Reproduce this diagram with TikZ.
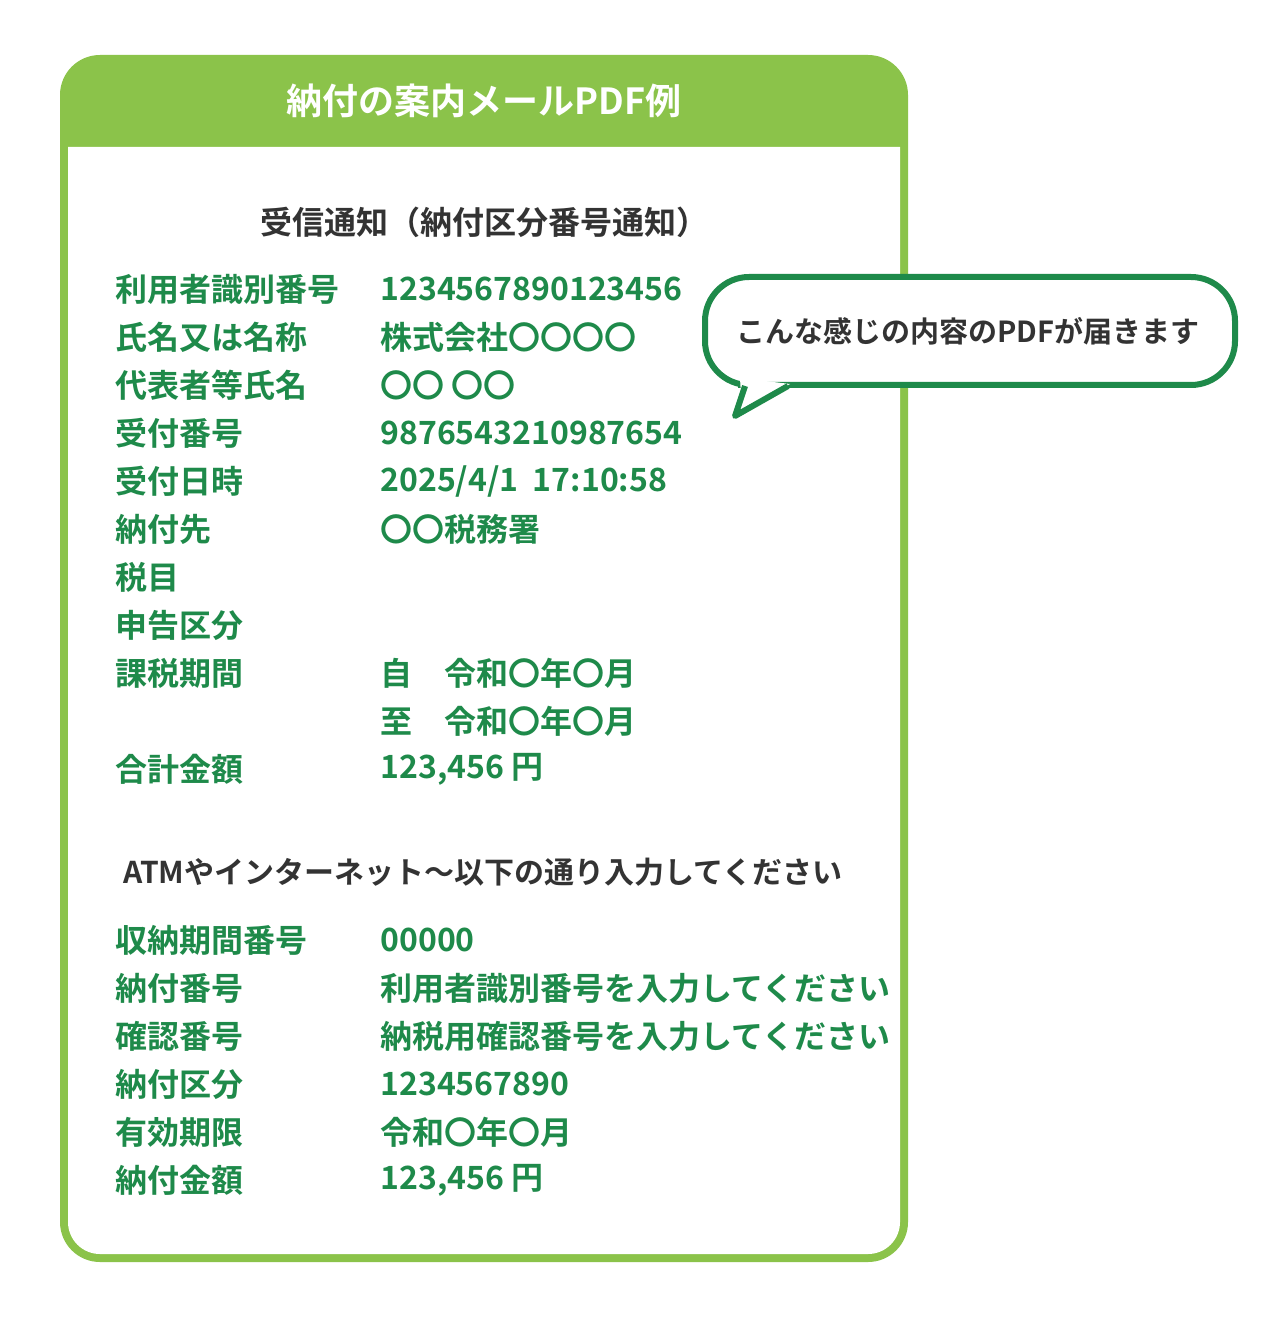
\documentclass[tikz,border=0pt]{standalone}
\usepackage{fontspec}
\setmainfont{Noto Sans CJK JP}[BoldFont={* Bold}]
\definecolor{leaf}{HTML}{8BC34A}
\definecolor{deep}{HTML}{1E8A4A}
\definecolor{ink}{HTML}{333333}
\tikzset{
  lbl/.style={anchor=west,text=deep,font=\fontsize{16}{16}\selectfont\bfseries,inner sep=0pt},
  val/.style={lbl},
  head/.style={text=ink,font=\fontsize{16}{16}\selectfont\bfseries,inner sep=0pt}
}
\begin{document}
\begin{tikzpicture}[x=0.5pt,y=-0.5pt]
\useasboundingbox (0,0) rectangle (1280,1320);
% card
\fill[leaf,rounded corners=20pt] (60,55) rectangle (908,1262);
\fill[white] (68,147) -- (900,147) -- (900,1214) [rounded corners=16pt] -- (900,1254) -- (68,1254) [sharp corners] -- (68,1214) -- cycle;
\node[text=white,font=\fontsize{18}{18}\selectfont\bfseries] (title) at (484,101) {納付の案内メールPDF例};
\node[head] (sec1) at (484,222) {受信通知（納付区分番号通知）};
% first block
\foreach \i/\a/\b in {0/利用者識別番号/1234567890123456,1/氏名又は名称/株式会社〇〇〇〇,2/代表者等氏名/〇〇 〇〇,
  3/受付番号/9876543210987654,4/受付日時/{2025/4/1\ \ 17:10:58},5/納付先/〇〇税務署,6/税目/{},7/申告区分/{},
  8/課税期間/{自\quad 令和〇年〇月},9/{}/{至\quad 令和〇年〇月},10/合計金額/{123,456 円}}{
  \node[lbl] (a\i) at (115,289+48*\i) {\a};
  \node[val] (b\i) at (380,289+48*\i) {\b};
}
\node[head,font=\fontsize{15}{15}\selectfont\bfseries] (sec2) at (483,872) {ATMやインターネット～以下の通り入力してください};
% second block
\foreach \i/\a/\b in {0/収納期間番号/00000,1/納付番号/利用者識別番号を入力してください,2/確認番号/納税用確認番号を入力してください,
  3/納付区分/1234567890,4/有効期限/令和〇年〇月,5/納付金額/{123,456 円}}{
  \node[lbl] (c\i) at (115,940+48*\i) {\a};
  \node[val] (d\i) at (380,940+48*\i) {\b};
}
% bubble
\draw[deep,line width=3pt,fill=white,rounded corners=22pt] (760,385) -- (1235,385) -- (1235,277) -- (705,277) -- (705,385) [sharp corners] -- (738,385);
\fill[white] (740,378) -- (742,412) -- (790,384) -- cycle;
\draw[deep,line width=3pt,line join=round] (745,386) -- (735,416) -- (788,386);
\node[text=ink,font=\fontsize{14.5}{15}\selectfont\bfseries] (note) at (968,331) {こんな感じの内容のPDFが届きます};
\end{tikzpicture}
\end{document}
